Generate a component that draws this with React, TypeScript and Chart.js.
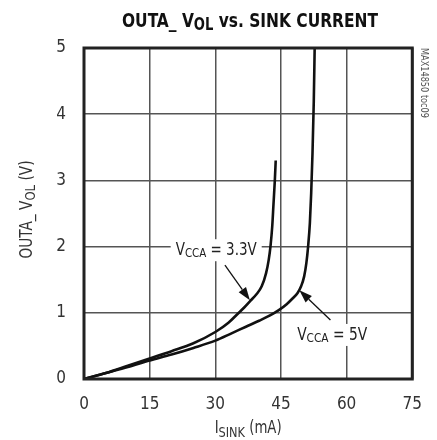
import React, { useEffect, useRef } from "react";
import { Chart, registerables } from "chart.js";

Chart.register(...registerables);

const FONT = '"Liberation Sans Narrow", "DejaVu Sans Condensed", "Roboto", sans-serif';

// ---- data ----
const xTicks = [0, 15, 30, 45, 60, 75];
const yTicks = [0, 1, 2, 3, 4, 5];

const current33 = [0, 5, 10, 15, 20, 25, 30, 33, 35.2, 36.6, 38, 39.4, 40.6, 41.6, 42.2, 42.6, 43.0, 43.3, 43.6, 43.8];
const vol33 = [0, 0.09, 0.2, 0.31, 0.42, 0.54, 0.71, 0.85, 0.99, 1.08, 1.18, 1.28, 1.4, 1.6, 1.8, 2.0, 2.3, 2.65, 3.0, 3.3];

const current5 = [0, 5, 10, 15, 20, 25, 30, 33.7, 37, 40, 42.5, 44.5, 46.3, 47.7, 48.8, 49.6, 50.3, 50.8, 51.2, 51.6, 51.9, 52.2, 52.5, 52.7];
const vol5 = [0, 0.09, 0.18, 0.28, 0.37, 0.47, 0.58, 0.69, 0.79, 0.88, 0.96, 1.04, 1.13, 1.22, 1.3, 1.4, 1.55, 1.75, 2.0, 2.35, 2.8, 3.4, 4.2, 5.0];

const seriesNames = ["3.3V", "5V"];

type Seg = { t: string; size: number; dy?: number; bold?: boolean };

function setFont(ctx: CanvasRenderingContext2D, s: Seg) {
  ctx.font = `${s.bold ? "bold " : ""}${s.size}px ${FONT}`;
}
function richWidth(ctx: CanvasRenderingContext2D, segs: Seg[]) {
  let w = 0;
  for (const s of segs) {
    setFont(ctx, s);
    w += ctx.measureText(s.t).width;
  }
  return w;
}
// draws text centred at cx, squeezed horizontally to targetW if given
function drawRich(
  ctx: CanvasRenderingContext2D,
  segs: Seg[],
  cx: number,
  base: number,
  color: string,
  targetW?: number
) {
  const w = richWidth(ctx, segs);
  const sx = targetW ? targetW / w : 1;
  ctx.save();
  ctx.translate(cx, base);
  ctx.scale(sx, 1);
  let x = -w / 2;
  ctx.fillStyle = color;
  ctx.textAlign = "left";
  ctx.textBaseline = "alphabetic";
  for (const s of segs) {
    setFont(ctx, s);
    ctx.fillText(s.t, x, s.dy || 0);
    x += ctx.measureText(s.t).width;
  }
  ctx.restore();
  return w * sx;
}
function arrow(ctx: CanvasRenderingContext2D, x1: number, y1: number, x2: number, y2: number) {
  const a = Math.atan2(y2 - y1, x2 - x1);
  const L = 13, H = 4.5;
  const c = Math.cos(a), s = Math.sin(a);
  const bx = x2 - L * c, by = y2 - L * s;
  ctx.strokeStyle = "#111";
  ctx.fillStyle = "#111";
  ctx.lineWidth = 1.3;
  ctx.beginPath();
  ctx.moveTo(x1, y1);
  ctx.lineTo(bx, by);
  ctx.stroke();
  ctx.beginPath();
  ctx.moveTo(x2, y2);
  ctx.lineTo(bx - H * s, by + H * c);
  ctx.lineTo(bx + H * s, by - H * c);
  ctx.closePath();
  ctx.fill();
}

function vcca(value: string): Seg[] {
  return [
    { t: "V", size: 17 },
    { t: "CCA", size: 13, dy: 2 },
    { t: " = " + value, size: 17 },
  ];
}

const decor = {
  id: "decor",
  afterDatasetsDraw(chart: any) {
    const { ctx, chartArea: a, scales } = chart;
    const xs = scales.x, ys = scales.y;
    ctx.save();
    // frame
    ctx.strokeStyle = "#222";
    ctx.lineWidth = 3;
    ctx.strokeRect(a.left, a.top, a.right - a.left, a.bottom - a.top);

    // annotations
    const labels = [
      { segs: vcca(seriesNames[0]), w: 81, x: 30.2, y: 1.87, tail: [32.2, 1.72], tip: [37.9, 1.19] },
      { segs: vcca(seriesNames[1]), w: 70, x: 56.7, y: 0.59, tail: [56.3, 0.89], tip: [49.2, 1.34] },
    ];
    for (const l of labels) {
      const cx = xs.getPixelForValue(l.x);
      const by = ys.getPixelForValue(l.y);
      ctx.fillStyle = "#fff";
      ctx.fillRect(cx - l.w / 2 - 5, by - 16, l.w + 10, 22);
      drawRich(ctx, l.segs, cx, by, "#222", l.w);
      arrow(
        ctx,
        xs.getPixelForValue(l.tail[0]),
        ys.getPixelForValue(l.tail[1]),
        xs.getPixelForValue(l.tip[0]),
        ys.getPixelForValue(l.tip[1])
      );
    }
    ctx.restore();
  },
  afterDraw(chart: any) {
    const { ctx, chartArea: a } = chart;
    ctx.save();
    // title
    drawRich(
      ctx,
      [
        { t: "OUTA_ V", size: 20, bold: true },
        { t: "OL", size: 17, bold: true, dy: 3 },
        { t: " vs. SINK CURRENT", size: 20, bold: true },
      ],
      250,
      27,
      "#111",
      256
    );
    // x axis title
    drawRich(
      ctx,
      [
        { t: "I", size: 17 },
        { t: "SINK", size: 14.5, dy: 3.5 },
        { t: " (mA)", size: 17 },
      ],
      (a.left + a.right) / 2,
      433,
      "#333",
      67
    );
    // y axis title
    ctx.save();
    ctx.translate(31.5, (a.top + a.bottom) / 2 - 4);
    ctx.rotate(-Math.PI / 2);
    drawRich(
      ctx,
      [
        { t: "OUTA_ V", size: 17 },
        { t: "OL", size: 14.5, dy: 3 },
        { t: " (V)", size: 17 },
      ],
      0,
      0,
      "#333",
      98
    );
    ctx.restore();
    // side note
    ctx.save();
    ctx.translate(420.5, a.top);
    ctx.rotate(Math.PI / 2);
    drawRich(ctx, [{ t: "MAX14850 toc09", size: 11 }], 35, 0, "#555", 70);
    ctx.restore();
    ctx.restore();
  },
};

export default function App() {
  const ref = useRef<HTMLCanvasElement>(null);
  useEffect(() => {
    if (!ref.current) return;
    const tickFont = { family: FONT, size: 17 };
    const chart = new Chart(ref.current, {
      type: "line",
      data: {
        datasets: [
          {
            label: seriesNames[0],
            data: current33.map((x, i) => ({ x, y: vol33[i] })),
            borderColor: "#111",
            borderWidth: 2.6,
            pointRadius: 0,
            cubicInterpolationMode: "monotone",
            fill: false,
          },
          {
            label: seriesNames[1],
            data: current5.map((x, i) => ({ x, y: vol5[i] })),
            borderColor: "#111",
            borderWidth: 2.6,
            pointRadius: 0,
            cubicInterpolationMode: "monotone",
            fill: false,
          },
        ],
      },
      options: {
        animation: false,
        responsive: false,
        devicePixelRatio: 1,
        layout: { padding: { top: 48, right: 21, left: 0, bottom: 0 } },
        plugins: {
          legend: { display: false },
          tooltip: { enabled: false },
          title: { display: false },
        },
        scales: {
          x: {
            type: "linear",
            min: 0,
            max: 75,
            afterBuildTicks: (s: any) => {
              s.ticks = xTicks.map((v) => ({ value: v }));
            },
            afterFit: (s: any) => {
              s.height = 61;
            },
            grid: { color: "#555", lineWidth: 1.5, drawTicks: false },
            border: { display: false },
            ticks: { padding: 15, color: "#333", font: tickFont, maxRotation: 0, autoSkip: false },
          },
          y: {
            type: "linear",
            min: 0,
            max: 5,
            afterBuildTicks: (s: any) => {
              s.ticks = yTicks.map((v) => ({ value: v }));
            },
            afterFit: (s: any) => {
              s.width = 84;
            },
            grid: { color: "#555", lineWidth: 1.5, drawTicks: false },
            border: { display: false },
            ticks: { padding: 18, color: "#333", font: tickFont, autoSkip: false },
          },
        },
      },
      plugins: [decor],
    } as any);
    return () => chart.destroy();
  }, []);
  return (
    <div style={{ position: "absolute", left: 0, top: 0, width: 437, height: 440, background: "#fff" }}>
      <canvas ref={ref} width={437} height={440} style={{ display: "block" }} />
    </div>
  );
}
